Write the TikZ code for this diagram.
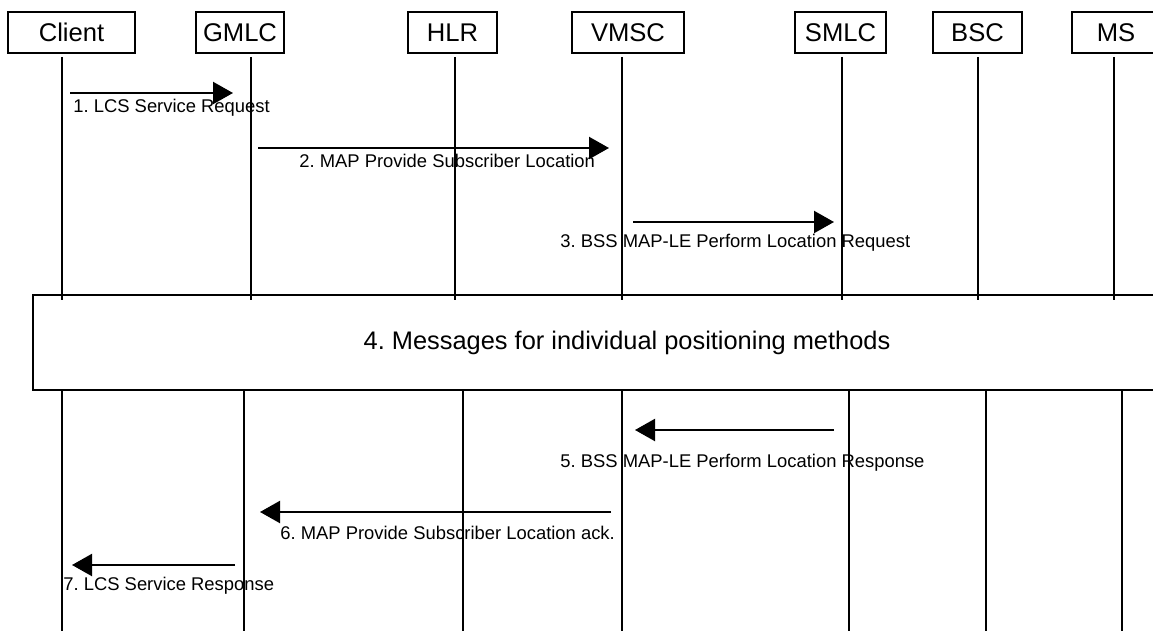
\documentclass[tikz,border=0pt]{standalone}
\usepackage{fontspec}
\setmainfont{Liberation Sans}
\usetikzlibrary{arrows.meta,positioning}
\frenchspacing

\tikzset{
    entity/.style={draw,line width=1pt,minimum height=20.5pt,inner sep=0pt,font=\fontsize{12.8}{14}\selectfont},
    lifeline/.style={line width=1pt},
    msg/.style={line width=1.1pt,-{Triangle[length=10pt,width=11pt]}},
    msglabel/.style={anchor=west,inner sep=0pt,font=\fontsize{9.2}{11}\selectfont},
    stagebox/.style={draw,line width=1pt,inner sep=0pt,minimum width=594pt,minimum height=47.5pt,font=\fontsize{12.7}{15}\selectfont},
}

\begin{document}
\begin{tikzpicture}[x=0.5pt,y=-0.5pt]
    \useasboundingbox (0,0) rectangle (1153,631);

    \node[entity,minimum width=63.5pt] (client) at (71.5,32.5) {Client};
    \node[entity,minimum width=44pt] (gmlc) at (240,32.5) {GMLC};
    \node[entity,minimum width=44.5pt] (hlr) at (452.5,32.5) {HLR};
    \node[entity,minimum width=56pt] (vmsc) at (628,32.5) {VMSC};
    \node[entity,minimum width=45.5pt] (smlc) at (840.5,32.5) {SMLC};
    \node[entity,minimum width=44.5pt] (bsc) at (977.5,32.5) {BSC};
    \node[entity,minimum width=44pt] (ms) at (1116,32.5) {MS};

    \foreach \name/\xa/\xb in {client/62/62, gmlc/251/244, hlr/455/463, vmsc/622/622, smlc/842/849, bsc/978/986, ms/1114/1122} {
        \coordinate (\name-a) at (\xa,57);
        \coordinate (\name-b) at (\xa,300);
        \coordinate (\name-c) at (\xb,390);
        \coordinate (\name-d) at (\xb,640);
        \draw[lifeline] (\name-a) -- (\name-b);
        \draw[lifeline] (\name-c) -- (\name-d);
    }

    \node[stagebox] (stage) at (627,342.5) {4. Messages for individual positioning methods};

    \coordinate (m1a) at (70,93);
    \coordinate (m1b) at (233,93);
    \coordinate (m2a) at (258,148);
    \coordinate (m2b) at (609,148);
    \coordinate (m3a) at (633,222);
    \coordinate (m3b) at (834,222);
    \coordinate (m5a) at (834,430);
    \coordinate (m5b) at (635,430);
    \coordinate (m6a) at (611,512);
    \coordinate (m6b) at (260,512);
    \coordinate (m7a) at (235,565);
    \coordinate (m7b) at (72,565);

    \draw[msg] (m1a) -- (m1b);
    \draw[msg] (m2a) -- (m2b);
    \draw[msg] (m3a) -- (m3b);
    \draw[msg] (m5a) -- (m5b);
    \draw[msg] (m6a) -- (m6b);
    \draw[msg] (m7a) -- (m7b);

    \node[msglabel] (l1) at (73,108) {1. LCS Service Request};
    \node[msglabel] (l2) at (299,161) {2. MAP Provide Subscriber Location};
    \node[msglabel] (l3) at (560,243) {3. BSS MAP-LE Perform Location Request};
    \node[msglabel] (l5) at (560,463) {5. BSS MAP-LE Perform Location Response};
    \node[msglabel] (l6) at (280,533) {6. MAP Provide Subscriber Location ack.};
    \node[msglabel] (l7) at (63,586) {7. LCS Service Response};
\end{tikzpicture}
\end{document}
